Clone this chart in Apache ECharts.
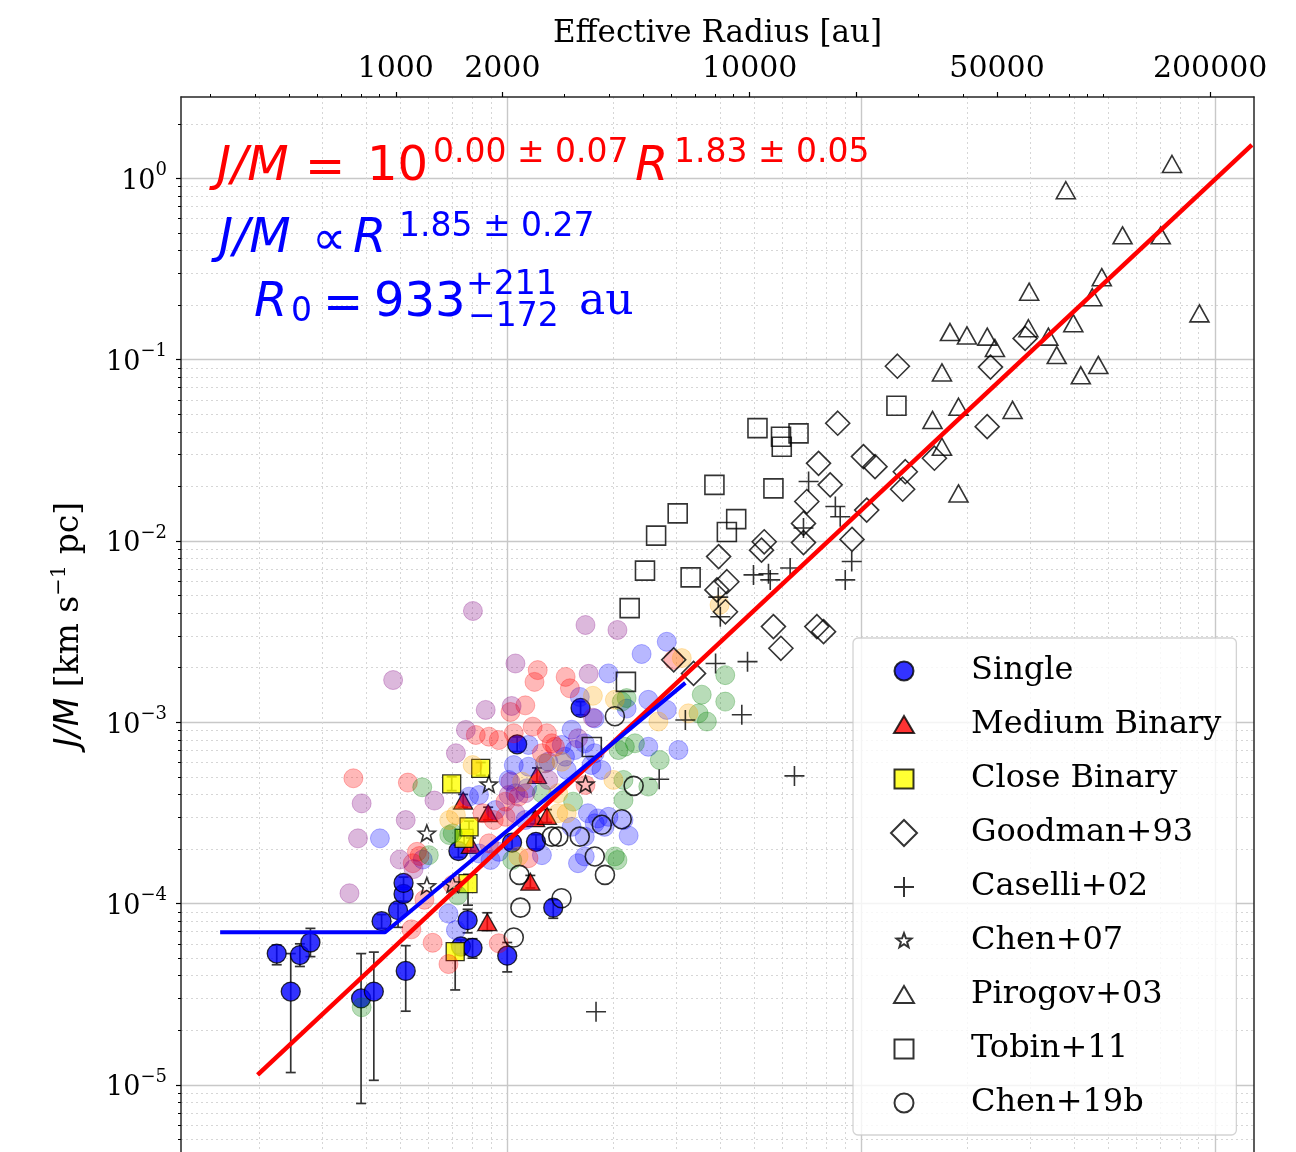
<!DOCTYPE html>
<html><head><meta charset="utf-8">
<script src="https://cdn.jsdelivr.net/npm/echarts@6/dist/echarts.min.js"></script>
<style>html,body{margin:0;padding:0;background:#fff}#c{width:1296px;height:1152px}</style>
</head><body><div id="c"></div>
<script>
// ---------- axis ranges / tick positions ----------
const xRange = [247.3, 266000];          // effective radius [au]
const yRange = [4.265e-6, 2.81];          // J/M [km s^-1 pc]
const xMajorTicks = [1000, 2000, 10000, 20000, 50000, 200000];
const xLabels = [1000, 2000, 10000, 50000, 200000];
const xMinorTicks = [300,400,500,600,700,800,900,3000,4000,5000,6000,7000,8000,9000,30000,40000,60000,70000,80000,90000,100000];
const PC_AU = 206265;
const pcMajor = [0.01, 0.1, 1];
const pcMinor = [0.002,0.003,0.004,0.005,0.006,0.007,0.008,0.009,0.02,0.03,0.04,0.05,0.06,0.07,0.08,0.09,0.2,0.3,0.4,0.5,0.6,0.7,0.8,0.9];
const yExponents = [-5, -4, -3, -2, -1, 0];
const yMinorMult = [2,3,4,5,6,7,8,9];
const yMinorDecades = [-6,-5,-4,-3,-2,-1,0];

// ---------- data [R (au), J/M] ----------
const singleData = [[461,5.3e-5],[505,3.27e-5],[536,5.2e-5],[574,6.1e-5],[798,3.0e-5],[867,3.27e-5],[912,8.0e-5],[1015,9.2e-5],[1052,1.13e-4],[1052,1.30e-4],[1067,4.25e-5],[1503,1.95e-4],[1528,5.8e-5],[1596,8.1e-5],[1648,5.7e-5],[2065,5.16e-5],[2131,2.17e-4],[2203,7.56e-4],[2490,2.19e-4],[2786,9.5e-5],[3328,1.2e-3]];
const singleErr = [[4.6e-5,5.9e-5],[1.17e-5,5.3e-5],[4.5e-5,6.0e-5],[5.1e-5,7.3e-5],[7.9e-6,5.3e-5],[1.06e-5,5.4e-5],[7.3e-5,8.7e-5],[7.4e-5,1.0e-4],[1.03e-4,1.23e-4],[1.2e-4,1.4e-4],[2.55e-5,5.86e-5],[1.8e-4,2.1e-4],[5.3e-5,6.3e-5],[6.9e-5,9.3e-5],[5.0e-5,6.4e-5],[4.2e-5,6.1e-5],[2.0e-4,2.35e-4],[6.9e-4,8.3e-4],[2.0e-4,2.4e-4],[8.3e-5,1.05e-4],[1.1e-3,1.3e-3]];
const mediumData = [[1550,3.7e-4],[1630,2.11e-4],[1814,7.9e-5],[1824,3.15e-4],[2400,1.32e-4],[2477,2.96e-4],[2506,5.12e-4],[2675,3.05e-4]];
const mediumErr = [[3.4e-4,4.0e-4],[1.95e-4,2.3e-4],[7.1e-5,8.9e-5],[2.9e-4,3.4e-4],[1.22e-4,1.43e-4],[2.75e-4,3.2e-4],[4.7e-4,5.6e-4],[2.8e-4,3.3e-4]];
const closeData = [[1439,4.57e-4],[1472,5.43e-5],[1560,2.29e-4],[1600,1.29e-4],[1611,2.65e-4],[1738,5.57e-4]];
const closeErr = [[4.2e-4,5.0e-4],[3.34e-5,6.0e-5],[2.1e-4,2.5e-4],[9.8e-5,1.45e-4],[2.45e-4,2.85e-4],[5.1e-4,6.0e-4]];
const goodmanData = [[17730,4.46e-2],[15650,2.68e-2],[16880,2.04e-2],[14500,1.65e-2],[14190,1.25e-2],[14190,9.8e-3],[10990,9.9e-3],[10800,8.9e-3],[8170,8.2e-3],[8620,5.96e-3],[8080,5.37e-3],[8540,4.07e-3],[11670,3.37e-3],[12250,2.56e-3],[15480,3.37e-3],[16170,3.16e-3],[19460,1.02e-2],[21410,1.48e-2],[20960,2.92e-2],[22600,2.57e-2],[6100,2.21e-3],[6940,1.86e-3],[26140,9.2e-2],[47900,9.1e-2],[60000,0.131],[46880,4.27e-2],[33260,2.86e-2],[27520,2.41e-2],[27050,1.93e-2]];
const caselliData = [[14670,2.13e-2],[17460,1.55e-2],[18020,1.36e-2],[14190,1.18e-2],[19420,7.7e-3],[18620,6.1e-3],[13010,7.1e-3],[10250,6.5e-3],[11300,6.6e-3],[11430,6.1e-3],[8260,3.82e-3],[8150,4.9e-3],[8010,2.11e-3],[9860,2.16e-3],[9500,1.1e-3],[6580,1.03e-3],[5550,4.85e-4],[13380,5.06e-4],[3680,2.53e-5]];
const chen07Data = [[1224,2.42e-4],[1224,1.24e-4],[1446,1.27e-4],[1832,4.51e-4],[3436,4.51e-4]];
const pirogovData = [[156000,1.2],[78200,0.86],[113100,0.485],[145000,0.485],[98800,0.285],[92900,0.221],[61600,0.237],[186500,0.18],[82100,0.159],[36800,0.142],[41100,0.136],[46900,0.134],[49300,0.116],[61300,0.149],[69800,0.134],[73700,0.106],[86200,0.082],[96600,0.0935],[34930,0.085],[38900,0.055],[32850,0.0465],[55300,0.0528],[34930,0.0331],[38900,0.0183]];
const tobinData = [[10520,4.19e-2],[12260,3.76e-2],[13740,3.92e-2],[12320,3.31e-2],[11670,1.95e-2],[7950,2.04e-2],[9160,1.32e-2],[8620,1.12e-2],[6260,1.42e-2],[5440,1.07e-2],[5060,6.86e-3],[6810,6.3e-3],[4580,4.26e-3],[4470,1.67e-3],[3580,7.3e-4],[25980,5.57e-2]];
const chen19Data = [[4700,4.46e-4],[3820,2.72e-4],[4350,2.92e-4],[3310,2.34e-4],[2760,2.34e-4],[2880,2.34e-4],[3650,1.82e-4],[3900,1.44e-4],[2235,1.44e-4],[2940,1.07e-4],[2250,9.5e-5],[2155,6.5e-5],[4160,1.08e-3]];

// faint background sample
const bgBlue = [[902,2.29e-4],[1192,1.75e-4],[1409,8.8e-5],[3990,1.86e-3],[4950,2.38e-3],[5170,1.33e-3],[3140,9.1e-4],[2371,7.5e-4],[2944,7.5e-4],[3008,6.46e-4],[3420,7.66e-4],[3648,6.75e-4],[5170,7.33e-4],[2155,5.81e-4],[2371,5.69e-4],[2698,6.06e-4],[3041,5.46e-4],[3573,5.81e-4],[3811,5.46e-4],[1719,3.97e-4],[2178,4.06e-4],[1914,3.28e-4],[2323,2.89e-4],[3491,3.15e-4],[3648,2.77e-4],[4400,2.89e-4],[4550,2.37e-4],[3891,2.65e-4],[3312,1.38e-3],[3648,1.05e-3],[3206,7.03e-4],[2085,4.81e-4],[2350,4.33e-4],[1611,3.89e-4],[5830,2.78e-3],[5830,1.17e-3],[6290,7.03e-4],[3990,3.01e-4],[3140,2.65e-4],[3273,1.67e-4],[3420,2.34e-4],[1719,1.89e-4],[1853,1.74e-4],[1954,1.93e-4],[2588,1.85e-4],[3420,1.82e-4],[3725,2.95e-4],[1479,7.14e-5],[2642,5.94e-4],[4490,1.19e-3]];
const bgRed = [[759,4.91e-4],[1082,4.65e-4],[1148,1.93e-4],[1117,1.67e-4],[1205,1.05e-4],[1107,7.21e-5],[1271,6.08e-5],[1409,4.64e-5],[2518,1.94e-3],[2466,1.67e-3],[3020,1.78e-3],[3105,1.54e-3],[2109,1.14e-3],[2323,1.24e-3],[1683,8.51e-4],[1834,8.33e-4],[1954,7.98e-4],[2155,8.7e-4],[2437,9.46e-4],[2673,8.7e-4],[2761,7.66e-4],[2588,6.75e-4],[2818,7.33e-4],[2042,3.65e-4],[2222,3.89e-4],[1758,3.15e-4],[1892,2.89e-4],[2042,3.01e-4],[1834,2.15e-4],[2371,1.78e-4],[1954,6.04e-5],[6090,2.21e-3],[1167,1.83e-4],[3436,4.51e-4],[1448,1.27e-4]];
const bgGreen = [[1448,2.44e-4],[1240,1.85e-4],[1496,1.11e-4],[801,2.68e-5],[4490,1.36e-3],[4260,7.03e-4],[4740,7.66e-4],[1188,4.38e-4],[2588,4.06e-4],[3170,3.65e-4],[4400,4.81e-4],[5170,4.42e-4],[1416,2.39e-4],[4160,1.82e-4],[4350,1.3e-3],[8530,1.82e-3],[7320,1.42e-3],[8530,1.3e-3],[7570,1.01e-3],[7170,1.12e-3],[4440,7.33e-4],[5570,6.19e-4],[4400,3.72e-4],[4230,1.74e-4],[2134,1.74e-4]];
const bgOrange = [[3606,1.4e-3],[1649,5.81e-4],[2944,6.06e-4],[2275,4.7e-4],[4120,4.81e-4],[1416,2.89e-4],[2877,3.15e-4],[2877,4.06e-4],[1479,3.08e-4],[6430,2.26e-3],[6710,1.12e-3],[5520,1.01e-3],[3041,3.15e-4],[2222,1.82e-4],[2642,5.94e-4],[4160,1.33e-3],[8220,4.44e-3]];
const bgPurple = [[983,1.71e-3],[801,3.57e-4],[1067,2.89e-4],[782,2.29e-4],[740,1.14e-4],[1026,1.75e-4],[1652,4.11e-3],[2178,2.11e-3],[3508,1.85e-3],[3436,3.44e-3],[4230,3.23e-3],[1795,1.17e-3],[2125,1.23e-3],[1578,9.08e-4],[3273,8.16e-4],[1479,6.75e-4],[1286,3.7e-4],[2109,4.7e-4],[2178,3.15e-4],[2698,4.81e-4],[1123,1.55e-4],[2085,3.97e-4],[2323,4.06e-4],[3606,1.06e-3]];

// fit lines (end points)
const redFit = [[407,1.135e-5],[262400,1.53]];
const blueFit = [[319,6.95e-5],[933,6.95e-5],[6580,1.65e-3]];

// ---------- helpers ----------
const L = Math.log10;
const toLog = arr => arr.map(p => [L(p[0]), L(p[1])]);
const toErr = (pts, err) => pts.map((p, i) => [L(p[0]), L(err[i][0]), L(err[i][1])]);
const SERIF = 'DejaVu Serif';
const SANS = 'DejaVu Sans';
const yMinorVals = [];
yMinorDecades.forEach(d => yMinorMult.forEach(m => yMinorVals.push(L(m) + d)));

const PAD = 'M-13,-13M13,13';
const icons = {
  circle: 'path://' + PAD + 'M9.5,0A9.5,9.5,0,1,1,-9.5,0A9.5,9.5,0,1,1,9.5,0Z',
  tri: 'path://' + PAD + 'M0,-9L10,8L-10,8Z',
  rect: 'path://' + PAD + 'M-9.5,-9.5L9.5,-9.5L9.5,9.5L-9.5,9.5Z',
  diamond: 'path://' + PAD + 'M0,-13L13,0L0,13L-13,0Z',
  plus: 'path://' + PAD + 'M0,-10L0,10M-10,0L10,0',
  star: 'path://' + PAD + 'M0,-7.8L1.93,-2.65L7.42,-2.41L3.11,1.01L4.59,6.31L0,3.28L-4.59,6.31L-3.11,1.01L-7.42,-2.41L-1.93,-2.65Z'
};
const plusPath = 'path://M0,-10L0,10M-10,0L10,0';
const starPath = 'path://M-10,-10M10,10M0,-10L2.47,-3.4L9.51,-3.09L3.99,1.3L5.88,8.09L0,4.2L-5.88,8.09L-3.99,1.3L-9.51,-3.09L-2.47,-3.4Z';

function errSeries(pts, err) {
  return {
    type: 'custom', silent: true, xAxisIndex: 0, yAxisIndex: 0,
    data: toErr(pts, err), encode: {x: 0, y: [1, 2]},
    renderItem: function (params, api) {
      const x = api.value(0), lo = api.value(1), hi = api.value(2);
      const a = api.coord([x, lo]), b = api.coord([x, hi]);
      const c = 5, st = {stroke: '#333', lineWidth: 1.7};
      return {type: 'group', children: [
        {type: 'line', shape: {x1: a[0], y1: a[1], x2: b[0], y2: b[1]}, style: st},
        {type: 'line', shape: {x1: a[0] - c, y1: a[1], x2: a[0] + c, y2: a[1]}, style: st},
        {type: 'line', shape: {x1: b[0] - c, y1: b[1], x2: b[0] + c, y2: b[1]}, style: st}
      ]};
    }
  };
}
function bg(data, color) {
  return {type: 'scatter', silent: true, symbol: 'circle', symbolSize: 19, data: toLog(data),
    itemStyle: {color: color, borderColor: color, borderWidth: 1, opacity: 0.28}};
}
function open(name, data, symbol, size) {
  return {name: name, type: 'scatter', silent: true, symbol: symbol, symbolSize: size, data: toLog(data),
    itemStyle: {color: 'rgba(0,0,0,0)', borderColor: '#000', borderWidth: 1.6}};
}
function txt(x, y, text, size, color, opts) {
  opts = opts || {};
  return {type: 'text', x: x, y: y, z: 100, silent: true, style: {
    text: text, fill: color, fontSize: size, fontFamily: opts.family || SANS,
    fontStyle: opts.italic ? 'italic' : 'normal',
    align: 'left', verticalAlign: 'middle', textAlign: 'left', textVerticalAlign: 'middle'}};
}

const xMin = L(xRange[0]), xMax = L(xRange[1]);
const yMin = L(yRange[0]), yMax = L(yRange[1]);
const hidden = {axisLine: {show: false, onZero: false}, axisLabel: {show: false}};
const frame = {show: true, onZero: false, lineStyle: {color: '#262626', width: 1.5}};

const option = {
  animation: false,
  backgroundColor: '#ffffff',
  grid: {left: 181, top: 97, width: 1073, height: 1055, show: false},
  xAxis: [
    {type: 'value', position: 'top', min: xMin, max: xMax,
      name: 'Effective Radius [au]', nameLocation: 'middle', nameGap: 46,
      nameTextStyle: {fontFamily: SERIF, fontSize: 31, color: '#000'},
      axisLine: frame,
      axisTick: {show: true, length: 5, lineStyle: {color: '#000', width: 1.2}, customValues: xMajorTicks.map(L)},
      axisLabel: {show: true, margin: 13, fontFamily: SERIF, fontSize: 30, color: '#000', customValues: xLabels.map(L),
        formatter: v => String(Math.round(Math.pow(10, v)))},
      splitLine: {show: false}},
    Object.assign({type: 'value', position: 'top', min: xMin, max: xMax,
      axisTick: {show: true, length: 3, lineStyle: {color: '#000', width: 1}, customValues: xMinorTicks.map(L)},
      splitLine: {show: false}}, hidden),
    Object.assign({type: 'value', position: 'bottom', min: xMin, max: xMax,
      axisTick: {show: false, customValues: pcMajor.map(p => L(p * PC_AU))},
      splitLine: {show: true, customValues: pcMajor.map(p => L(p * PC_AU)), lineStyle: {color: '#c8c8c8', width: 1.4}}}, hidden),
    Object.assign({type: 'value', position: 'bottom', min: xMin, max: xMax,
      axisTick: {show: false, customValues: pcMinor.map(p => L(p * PC_AU))},
      splitLine: {show: true, customValues: pcMinor.map(p => L(p * PC_AU)), lineStyle: {color: '#d6d6d6', width: 1, type: [2, 3]}}}, hidden)
  ],
  yAxis: [
    {type: 'value', position: 'left', min: yMin, max: yMax,
      name: '{i|J/M} [km s{s|−1} pc]', nameLocation: 'middle', nameGap: 92, nameRotate: 90,
      nameTextStyle: {fontFamily: SERIF, fontSize: 33, color: '#000', lineHeight: 40,
        rich: {i: {fontFamily: SANS, fontStyle: 'italic', fontSize: 33, lineHeight: 40},
               s: {fontFamily: SERIF, fontSize: 21, lineHeight: 40, verticalAlign: 'top'}}},
      axisLine: frame,
      axisTick: {show: true, length: 5, lineStyle: {color: '#000', width: 1.2}, customValues: yExponents},
      axisLabel: {show: true, margin: 14, customValues: yExponents, color: '#000',
        formatter: v => { const e = Math.round(v); return '{b|10}{s|' + (e < 0 ? '−' + (-e) : String(e)) + '}'; },
        rich: {b: {fontFamily: SERIF, fontSize: 27, lineHeight: 34, verticalAlign: 'bottom'},
               s: {fontFamily: SERIF, fontSize: 18, lineHeight: 34, verticalAlign: 'top'}}},
      splitLine: {show: true, customValues: yExponents, lineStyle: {color: '#c8c8c8', width: 1.4}}},
    Object.assign({type: 'value', position: 'left', min: yMin, max: yMax,
      axisTick: {show: true, length: 3, lineStyle: {color: '#000', width: 1}, customValues: yMinorVals},
      splitLine: {show: true, customValues: yMinorVals, lineStyle: {color: '#d6d6d6', width: 1, type: [2, 3]}}}, hidden),
    {type: 'value', position: 'right', min: yMin, max: yMax, axisLine: frame,
      axisTick: {show: false}, axisLabel: {show: false}, splitLine: {show: false}}
  ],
  legend: {
    left: 853, top: 638, orient: 'vertical', selectedMode: false,
    itemWidth: 26, itemHeight: 26, itemGap: 22,
    padding: [17, 15, 16, 37],
    backgroundColor: 'rgba(255,255,255,0.8)', borderColor: 'rgba(200,200,200,0.8)', borderWidth: 1.3, borderRadius: 5,
    formatter: name => '{g|}' + name,
    textStyle: {fontFamily: SERIF, fontSize: 32, color: '#000', lineHeight: 30, rich: {g: {width: 49}}},
    data: [
      {name: 'Single', icon: icons.circle},
      {name: 'Medium Binary', icon: icons.tri},
      {name: 'Close Binary', icon: icons.rect},
      {name: 'Goodman+93', icon: icons.diamond},
      {name: 'Caselli+02', icon: icons.plus},
      {name: 'Chen+07', icon: icons.star},
      {name: 'Pirogov+03', icon: icons.tri},
      {name: 'Tobin+11', icon: icons.rect},
      {name: 'Chen+19b', icon: icons.circle}
    ]
  },
  graphic: [
    txt(217, 168, 'J/M', 48, '#ff0000', {italic: true}),
    txt(305, 170, '=', 48, '#ff0000'),
    txt(367, 168, '10', 48, '#ff0000'),
    txt(433, 153, '0.00 ± 0.07', 33, '#ff0000'),
    txt(635, 168, 'R', 48, '#ff0000', {italic: true}),
    txt(674, 153, '1.83 ± 0.05', 33, '#ff0000'),
    txt(219, 240, 'J/M', 48, '#0000ff', {italic: true}),
    txt(312, 242, '∝', 48, '#0000ff'),
    txt(353, 240, 'R', 48, '#0000ff', {italic: true}),
    txt(399, 227, '1.85 ± 0.27', 33, '#0000ff'),
    txt(254, 304, 'R', 48, '#0000ff', {italic: true}),
    txt(291, 312, '0', 33, '#0000ff'),
    txt(323, 306, '=', 48, '#0000ff'),
    txt(374, 304, '933', 48, '#0000ff'),
    txt(466, 285, '+211', 33, '#0000ff'),
    txt(468, 317, '−172', 33, '#0000ff'),
    txt(579, 303, 'au', 44, '#0000ff', {family: SERIF})
  ],
  series: [
    errSeries(singleData, singleErr),
    errSeries(mediumData, mediumErr),
    errSeries(closeData, closeErr),
    {name: 'Single', type: 'scatter', silent: true, symbol: 'circle', symbolSize: 19, data: toLog(singleData),
      itemStyle: {color: '#0000ff', borderColor: '#000', borderWidth: 1.3}},
    {name: 'Medium Binary', type: 'scatter', silent: true, symbol: 'triangle', symbolSize: [19, 17], data: toLog(mediumData),
      itemStyle: {color: '#ff0000', borderColor: '#000', borderWidth: 1.3}},
    {name: 'Close Binary', type: 'scatter', silent: true, symbol: 'rect', symbolSize: 18, data: toLog(closeData),
      itemStyle: {color: '#ffff00', borderColor: '#000', borderWidth: 1.3}},
    bg(bgBlue, '#0000ff'), bg(bgRed, '#ff0000'), bg(bgGreen, '#008000'), bg(bgOrange, '#ffa500'), bg(bgPurple, '#800080'),
    open('Goodman+93', goodmanData, 'diamond', 24),
    open('Caselli+02', caselliData, plusPath, 20),
    open('Chen+07', chen07Data, starPath, 18),
    open('Pirogov+03', pirogovData, 'triangle', [19, 17]),
    open('Tobin+11', tobinData, 'rect', 19),
    open('Chen+19b', chen19Data, 'circle', 19),
    {type: 'line', silent: true, data: toLog(redFit), symbol: 'none', lineStyle: {color: '#ff0000', width: 4.5}, z: 5},
    {type: 'line', silent: true, data: toLog(blueFit), symbol: 'none', lineStyle: {color: '#0000ff', width: 4}, z: 5}
  ]
};
const chart = echarts.init(document.getElementById('c'), null, {renderer: 'canvas'});
chart.setOption(option);
</script></body></html>
